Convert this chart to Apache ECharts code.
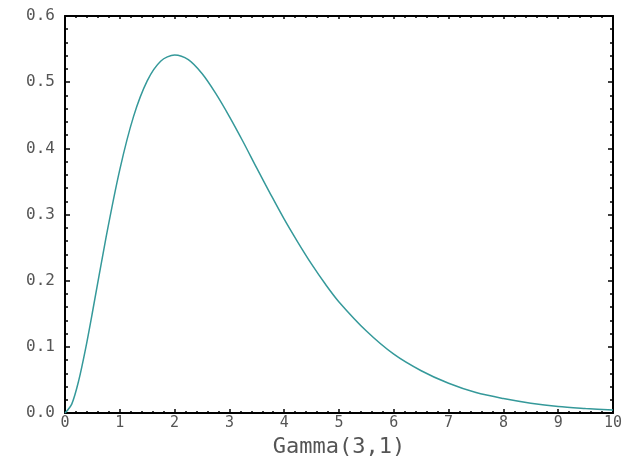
<!DOCTYPE html>
<html>
<head>
<meta charset="utf-8">
<script src="https://cdn.jsdelivr.net/npm/echarts@6/dist/echarts.min.js"></script>
<style>html,body{margin:0;padding:0;background:#fff;}#c{width:629px;height:463px;}</style>
</head>
<body>
<div id="c"></div>
<script>
var xValues = [0,0.125,0.25,0.375,0.5,0.75,1,1.25,1.5,1.75,2,2.25,2.5,2.75,3,3.25,3.5,3.75,4,4.25,4.5,4.75,5,5.5,6,6.5,7,7.5,8,8.5,9,9.5,10];
var densityValues = [0,0.014,0.049,0.097,0.152,0.266,0.368,0.448,0.502,0.532,0.541,0.534,0.513,0.483,0.448,0.410,0.370,0.331,0.293,0.258,0.225,0.195,0.168,0.124,0.089,0.064,0.045,0.031,0.022,0.015,0.010,0.007,0.0045];
var xTickLabels = ['0','1','2','3','4','5','6','7','8','9','10'];
var yTickLabels = ['0.0','0.1','0.2','0.3','0.4','0.5','0.6'];
var xTitle = 'Gamma(3,1)';

var chart = echarts.init(document.getElementById('c'), null, {renderer:'canvas'});
var font = 'DejaVu Sans Mono';
var axisLine = {show:true, onZero:false, lineStyle:{color:'#000', width:2}};
var pts = xValues.map(function(x,i){return [x, densityValues[i]];});
chart.setOption({
  animation:false,
  backgroundColor:'#fff',
  grid:{left:65, right:16, top:16, bottom:40},
  xAxis:[{
    type:'value', min:0, max:10, interval:1, position:'bottom',
    name:xTitle, nameLocation:'middle', nameGap:22,
    nameTextStyle:{fontFamily:font, fontSize:22, color:'#555'},
    axisLine:axisLine,
    axisTick:{show:true, inside:true, length:4, lineStyle:{color:'#000', width:1.5}},
    minorTick:{show:true, splitNumber:5, length:2, lineStyle:{color:'#000', width:1.5}},
    axisLabel:{fontFamily:font, fontSize:15, color:'#555', margin:3,
      formatter:function(v){return xTickLabels[Math.round(v)];}},
    splitLine:{show:false}
  },{
    type:'value', min:0, max:10, interval:1, position:'top',
    axisLine:axisLine,
    axisTick:{show:true, inside:true, length:3, lineStyle:{color:'#000', width:1.5}},
    minorTick:{show:true, splitNumber:5, length:2, lineStyle:{color:'#000', width:1.5}},
    axisLabel:{show:false}, splitLine:{show:false}
  }],
  yAxis:[{
    type:'value', min:0, max:0.6, interval:0.1, position:'left',
    axisLine:axisLine,
    axisTick:{show:true, inside:true, length:5, lineStyle:{color:'#000', width:1.5}},
    minorTick:{show:true, splitNumber:5, length:3, lineStyle:{color:'#000', width:1.5}},
    axisLabel:{fontFamily:font, fontSize:16, color:'#555', margin:10,
      formatter:function(v){return yTickLabels[Math.round(v*10)];}},
    splitLine:{show:false}
  },{
    type:'value', min:0, max:0.6, interval:0.1, position:'right',
    axisLine:axisLine,
    axisTick:{show:true, inside:true, length:5, lineStyle:{color:'#000', width:1.5}},
    minorTick:{show:true, splitNumber:5, length:3, lineStyle:{color:'#000', width:1.5}},
    axisLabel:{show:false}, splitLine:{show:false}
  }],
  series:[{
    type:'line', data:pts, smooth:0.3, showSymbol:false,
    xAxisIndex:0, yAxisIndex:0,
    lineStyle:{color:'#35999a', width:1.5}
  }]
});
</script>
</body>
</html>
